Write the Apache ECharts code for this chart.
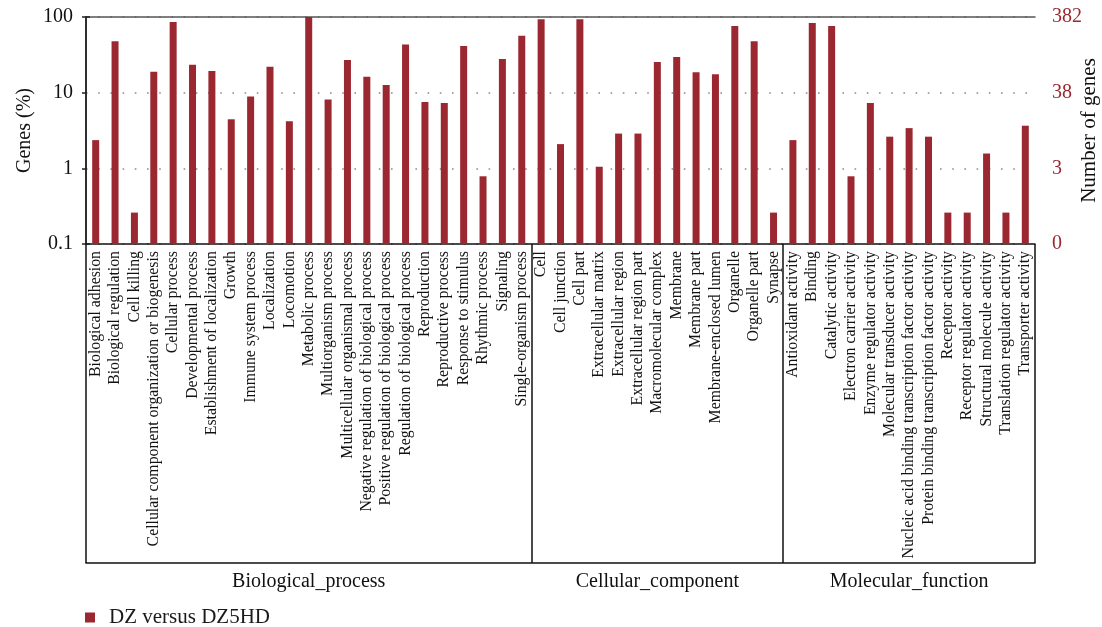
<!DOCTYPE html>
<html>
<head>
<meta charset="utf-8">
<title>GO classification: DZ versus DZ5HD</title>
<script src="https://cdn.jsdelivr.net/npm/echarts@6/dist/echarts.min.js"></script>
<style>
  html, body { margin: 0; padding: 0; background: #ffffff; }
  #chart { width: 1102px; height: 627px; }
</style>
</head>
<body>
<div id="chart"></div>
<script>
// GO terms per ontology, with the share of annotated genes (%) for each term
const bioProcessTerms = [
  'Biological adhesion', 'Biological regulation', 'Cell killing',
  'Cellular component organization or biogenesis', 'Cellular process',
  'Developmental process', 'Establishment of localization', 'Growth',
  'Immune system process', 'Localization', 'Locomotion', 'Metabolic process',
  'Multiorganism process', 'Multicellular organismal process',
  'Negative regulation of biological process', 'Positive regulation of biological process',
  'Regulation of biological process', 'Reproduction', 'Reproductive process',
  'Response to stimulus', 'Rhythmic process', 'Signaling', 'Single-organism process'
];
const bioProcessPct = [
  2.36, 47.9, 0.26, 18.9, 85.6, 23.3, 19.4, 4.45, 8.9, 22.0, 4.19, 100,
  8.1, 27.0, 16.2, 12.6, 43.2, 7.5, 7.3, 41.4, 0.785, 27.8, 56.5
];

const cellComponentTerms = [
  'Cell', 'Cell junction', 'Cell part', 'Extracellular matrix', 'Extracellular region',
  'Extracellular region part', 'Macromolecular complex', 'Membrane', 'Membrane part',
  'Membrane-enclosed lumen', 'Organelle', 'Organelle part', 'Synapse'
];
const cellComponentPct = [
  93.7, 2.09, 93.7, 1.05, 2.88, 2.88, 25.4, 29.6, 18.6, 17.5, 75.9, 47.9, 0.26
];

const molFunctionTerms = [
  'Antioxidant activity', 'Binding', 'Catalytic activity', 'Electron carrier activity',
  'Enzyme regulator activity', 'Molecular transducer activity',
  'Nucleic acid binding transcription factor activity',
  'Protein binding transcription factor activity', 'Receptor activity',
  'Receptor regulator activity', 'Structural molecule activity',
  'Translation regulator activity', 'Transporter activity'
];
const molFunctionPct = [
  2.36, 83.0, 75.9, 0.785, 7.3, 2.62, 3.40, 2.62, 0.26, 0.26, 1.57, 0.26, 3.66
];

const groupNames = ['Biological_process', 'Cellular_component', 'Molecular_function'];
const seriesName = 'DZ versus DZ5HD';
const totalGenes = 382;                        // genes behind the 100% mark
const pctMin = 0.1;
const pctMax = 100;

// ---- derived tables for the library ----
const categories = bioProcessTerms.concat(cellComponentTerms, molFunctionTerms);
const values = bioProcessPct.concat(cellComponentPct, molFunctionPct);
const groupSizes = [bioProcessTerms.length, cellComponentTerms.length, molFunctionTerms.length];
const groupEdges = [0];
groupSizes.forEach(n => groupEdges.push(groupEdges[groupEdges.length - 1] + n));
const groupCenters = groupSizes.map((n, i) => groupEdges[i] + n / 2);
const nCat = categories.length;

const serif = '"Liberation Serif", "DejaVu Serif", serif';
const barRed = '#9b2831';
const barPx = 7;

// Bars rise from the bottom of the log axis (0.1 %) to their value.
function renderBar(params, api) {
  const idx = api.value(0);
  const top = api.coord([idx, api.value(1)]);
  const base = api.coord([idx, pctMin]);
  return {
    type: 'rect',
    shape: { x: top[0] - barPx / 2, y: top[1], width: barPx, height: base[1] - top[1] },
    style: { fill: barRed }
  };
}

const chart = echarts.init(document.getElementById('chart'), null, { renderer: 'canvas' });

chart.setOption({
  animation: false,
  backgroundColor: '#ffffff',
  textStyle: { fontFamily: serif },
  grid: {
    left: 86, right: 67, top: 17, bottom: 383,
    containLabel: false, outerBoundsMode: 'none'
  },
  legend: {
    left: 80, top: 602,
    icon: 'rect', itemWidth: 10, itemHeight: 10,
    itemStyle: { color: barRed },
    textStyle: { fontFamily: serif, fontSize: 21, color: '#1a1a1a', padding: [0, 0, 0, 9] },
    data: [seriesName]
  },
  xAxis: [
    {
      // GO term axis
      type: 'category',
      data: categories,
      position: 'bottom',
      axisLine: { lineStyle: { color: '#111', width: 1.5 } },
      axisTick: { show: false },
      axisLabel: {
        interval: 0, rotate: 90, margin: 7,
        fontFamily: serif, fontSize: 15.8, color: '#111'
      },
      splitLine: { show: false }
    },
    {
      // ontology box beneath the term labels
      type: 'value',
      min: 0, max: nCat,
      position: 'bottom',
      offset: 319,
      axisLine: { show: true, lineStyle: { color: '#111', width: 1.5 } },
      axisTick: {
        show: true, inside: true, length: 319,
        customValues: groupEdges,
        lineStyle: { color: '#111', width: 1.5 }
      },
      axisLabel: {
        show: true, margin: 9,
        customValues: groupCenters,
        fontFamily: serif, fontSize: 20, color: '#111',
        formatter: v => {
          const i = groupCenters.findIndex(c => Math.abs(c - v) < 1e-6);
          return i >= 0 ? groupNames[i] : '';
        }
      },
      splitLine: { show: false }
    },
    {
      // frame along the top of the plot
      type: 'value',
      min: 0, max: nCat,
      position: 'top',
      axisLine: { show: true, lineStyle: { color: '#555', width: 1.5 } },
      axisTick: { show: false },
      axisLabel: { show: false },
      splitLine: { show: false }
    }
  ],
  yAxis: [
    {
      type: 'log',
      logBase: 10,
      min: pctMin, max: pctMax,
      position: 'left',
      name: 'Genes (%)',
      nameLocation: 'middle',
      nameGap: 51,
      nameMoveOverlap: false,
      nameTextStyle: { fontFamily: serif, fontSize: 20, color: '#111' },
      axisLine: { show: true, lineStyle: { color: '#222', width: 1.5 } },
      axisTick: { show: true, length: 4, lineStyle: { color: '#222', width: 1.5 } },
      axisLabel: {
        margin: 13, fontFamily: serif, fontSize: 20, color: '#111',
        formatter: v => String(+v.toPrecision(3))
      },
      splitLine: {
        show: true,
        lineStyle: { color: '#8a8a8a', width: 1.6, type: [1.6, 10.6] }
      }
    },
    {
      type: 'log',
      logBase: 10,
      min: pctMin, max: pctMax,
      position: 'right',
      name: 'Number of genes',
      nameLocation: 'middle',
      nameGap: 44,
      nameMoveOverlap: false,
      nameTextStyle: { fontFamily: serif, fontSize: 21, color: '#111' },
      axisLine: { show: true, lineStyle: { color: '#222', width: 1.5 } },
      axisTick: {
        show: true, length: 4,
        customValues: [pctMin, pctMax],
        lineStyle: { color: '#222', width: 1.5 }
      },
      axisLabel: {
        margin: 17, fontFamily: serif, fontSize: 20, color: barRed,
        formatter: v => String(Math.floor(v * totalGenes / 100 + 1e-9))
      },
      splitLine: { show: false }
    }
  ],
  series: [
    {
      name: seriesName,
      type: 'custom',
      xAxisIndex: 0,
      yAxisIndex: 0,
      renderItem: renderBar,
      encode: { x: 0, y: 1 },
      data: values.map((v, i) => [i, v]),
      itemStyle: { color: barRed },
      z: 3
    }
  ]
});
</script>
</body>
</html>
